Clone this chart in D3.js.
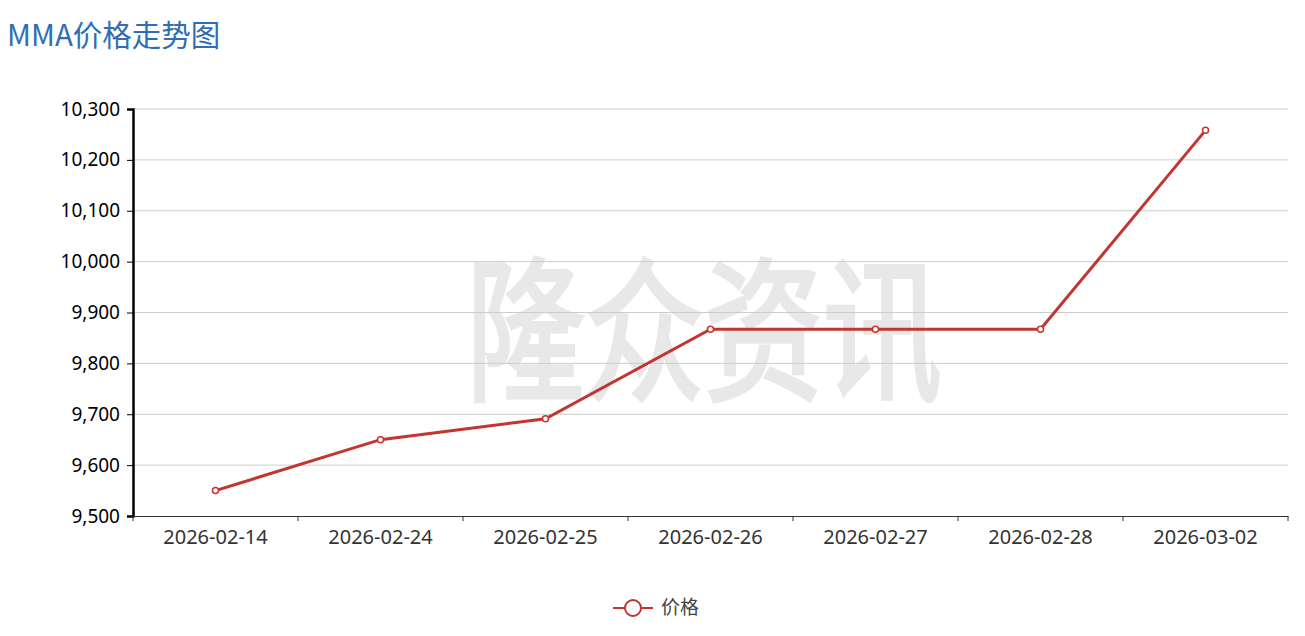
<!DOCTYPE html>
<html><head><meta charset="utf-8">
<script src="https://cdn.jsdelivr.net/npm/d3@7"></script>
<style>body{margin:0;background:#fff;} svg{display:block;font-family:"Noto Sans CJK SC","Noto Sans",sans-serif;}</style>
</head><body><svg id="c" width="1305" height="636"></svg>
<script>
const categories = ["2026-02-14","2026-02-24","2026-02-25","2026-02-26","2026-02-27","2026-02-28","2026-03-02"];
const prices = [9550, 9650, 9691, 9867, 9867, 9867, 10258];
const yTicks = [9500,9600,9700,9800,9900,10000,10100,10200,10300];
const seriesName = "价格";
const titleText = "MMA价格走势图";
const watermark = "隆众资讯";

(function(){
const svg = d3.select("#c");
const left = 133, right = 1288, topY = 109, bottom = 516;
const x = d3.scaleBand().domain(categories).range([left, right]);
const y = d3.scaleLinear().domain([9500, 10300]).range([bottom, topY]);
const red = "#c23531";

svg.append("text").attr("x", 7).attr("y", 46).attr("fill", "#2f6eb5")
  .attr("font-size", 29.5).text(titleText);

// watermark
svg.append("g").attr("transform", "translate(704,332) scale(1,1.3)")
  .append("text").attr("text-anchor", "middle").attr("dy", "0.36em")
  .attr("font-size", 119).attr("fill", "#e8e8e8")
  .attr("stroke", "#e8e8e8").attr("stroke-width", 3).text(watermark);

// grid
svg.append("g").selectAll("line").data(yTicks.slice(1)).join("line")
  .attr("x1", left).attr("x2", right).attr("y1", d => y(d)).attr("y2", d => y(d))
  .attr("stroke", "#ccc").attr("stroke-width", 1);

// y axis
const ya = svg.append("g").attr("transform", `translate(${left},0)`)
  .call(d3.axisLeft(y).tickValues(yTicks).tickFormat(d3.format(",")).tickSize(6).tickPadding(7));
ya.select(".domain").attr("stroke", "#000").attr("stroke-width", 2.5);
ya.selectAll(".tick line").attr("stroke", "#000");
ya.selectAll("text").attr("font-size", 19).attr("fill", "#000").attr("font-family", "'Noto Sans',sans-serif");

// x axis
const xa = svg.append("g").attr("transform", `translate(0,${bottom})`)
  .call(d3.axisBottom(x).tickSize(0).tickPadding(14));
xa.select(".domain").attr("stroke", "#333").attr("stroke-width", 1);
xa.selectAll("text").attr("font-size", 20).attr("fill", "#333").attr("font-family", "'Noto Sans',sans-serif");
const bounds = categories.map(c => x(c)).concat([right]);
xa.selectAll(".bt").data(bounds).join("line").attr("class", "bt")
  .attr("x1", d => d).attr("x2", d => d).attr("y1", 0).attr("y2", 5).attr("stroke", "#333");

// line
const cx = d => x(d) + x.bandwidth() / 2;
svg.append("path").datum(prices.map((v, i) => [cx(categories[i]), y(v)]))
  .attr("d", d3.line()).attr("fill", "none").attr("stroke", red).attr("stroke-width", 3);
svg.append("g").selectAll("circle").data(prices).join("circle")
  .attr("cx", (d, i) => cx(categories[i])).attr("cy", d => y(d)).attr("r", 3)
  .attr("fill", "#fff").attr("stroke", red).attr("stroke-width", 1.5);

// legend
svg.append("line").attr("x1", 613).attr("x2", 653).attr("y1", 608).attr("y2", 608).attr("stroke", red).attr("stroke-width", 2);
svg.append("circle").attr("cx", 633).attr("cy", 608).attr("r", 8).attr("fill", "#fff").attr("stroke", red).attr("stroke-width", 2);
svg.append("text").attr("x", 661).attr("y", 614).attr("font-size", 19).attr("fill", "#444").text(seriesName);
})();
</script></body></html>
